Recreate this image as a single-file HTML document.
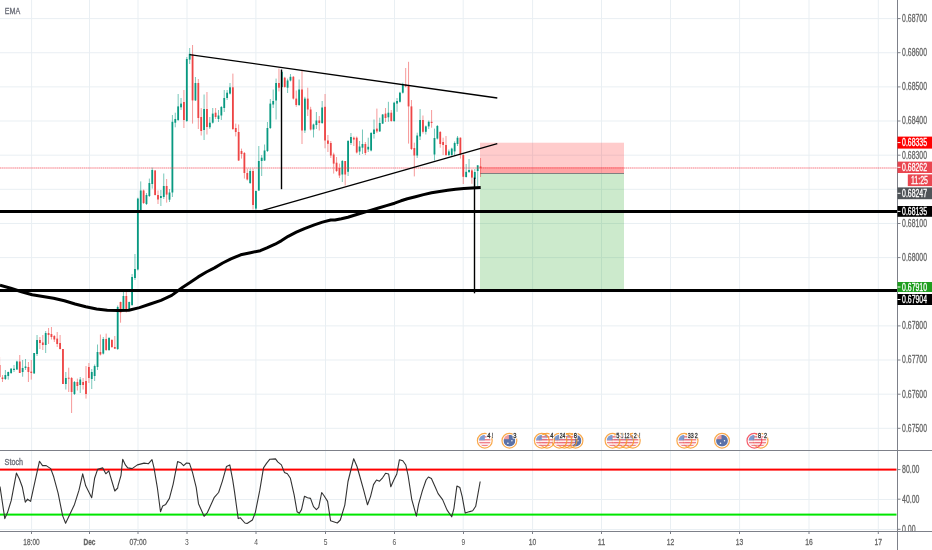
<!DOCTYPE html><html><head><meta charset="utf-8"><style>html,body{margin:0;padding:0;background:#fff;width:932px;height:550px;overflow:hidden;position:relative}</style></head><body><svg width="932" height="550" viewBox="0 0 932 550" style="position:absolute;left:0;top:0;will-change:transform"><line x1="31.6" y1="0" x2="31.6" y2="450" stroke="#e9eff3" stroke-width="1"/><line x1="31.6" y1="451" x2="31.6" y2="531" stroke="#e9eff3" stroke-width="1"/><line x1="89.5" y1="0" x2="89.5" y2="450" stroke="#e9eff3" stroke-width="1"/><line x1="89.5" y1="451" x2="89.5" y2="531" stroke="#e9eff3" stroke-width="1"/><line x1="138" y1="0" x2="138" y2="450" stroke="#e9eff3" stroke-width="1"/><line x1="138" y1="451" x2="138" y2="531" stroke="#e9eff3" stroke-width="1"/><line x1="187" y1="0" x2="187" y2="450" stroke="#e9eff3" stroke-width="1"/><line x1="187" y1="451" x2="187" y2="531" stroke="#e9eff3" stroke-width="1"/><line x1="255.9" y1="0" x2="255.9" y2="450" stroke="#e9eff3" stroke-width="1"/><line x1="255.9" y1="451" x2="255.9" y2="531" stroke="#e9eff3" stroke-width="1"/><line x1="325.5" y1="0" x2="325.5" y2="450" stroke="#e9eff3" stroke-width="1"/><line x1="325.5" y1="451" x2="325.5" y2="531" stroke="#e9eff3" stroke-width="1"/><line x1="394.5" y1="0" x2="394.5" y2="450" stroke="#e9eff3" stroke-width="1"/><line x1="394.5" y1="451" x2="394.5" y2="531" stroke="#e9eff3" stroke-width="1"/><line x1="463.2" y1="0" x2="463.2" y2="450" stroke="#e9eff3" stroke-width="1"/><line x1="463.2" y1="451" x2="463.2" y2="531" stroke="#e9eff3" stroke-width="1"/><line x1="532.6" y1="0" x2="532.6" y2="450" stroke="#e9eff3" stroke-width="1"/><line x1="532.6" y1="451" x2="532.6" y2="531" stroke="#e9eff3" stroke-width="1"/><line x1="601.5" y1="0" x2="601.5" y2="450" stroke="#e9eff3" stroke-width="1"/><line x1="601.5" y1="451" x2="601.5" y2="531" stroke="#e9eff3" stroke-width="1"/><line x1="670.5" y1="0" x2="670.5" y2="450" stroke="#e9eff3" stroke-width="1"/><line x1="670.5" y1="451" x2="670.5" y2="531" stroke="#e9eff3" stroke-width="1"/><line x1="739.6" y1="0" x2="739.6" y2="450" stroke="#e9eff3" stroke-width="1"/><line x1="739.6" y1="451" x2="739.6" y2="531" stroke="#e9eff3" stroke-width="1"/><line x1="809" y1="0" x2="809" y2="450" stroke="#e9eff3" stroke-width="1"/><line x1="809" y1="451" x2="809" y2="531" stroke="#e9eff3" stroke-width="1"/><line x1="878.3" y1="0" x2="878.3" y2="450" stroke="#e9eff3" stroke-width="1"/><line x1="878.3" y1="451" x2="878.3" y2="531" stroke="#e9eff3" stroke-width="1"/><line x1="0" y1="428.32" x2="897.5" y2="428.32" stroke="#e9eff3" stroke-width="1"/><line x1="0" y1="394.17" x2="897.5" y2="394.17" stroke="#e9eff3" stroke-width="1"/><line x1="0" y1="360.03" x2="897.5" y2="360.03" stroke="#e9eff3" stroke-width="1"/><line x1="0" y1="325.89" x2="897.5" y2="325.89" stroke="#e9eff3" stroke-width="1"/><line x1="0" y1="291.74" x2="897.5" y2="291.74" stroke="#e9eff3" stroke-width="1"/><line x1="0" y1="257.6" x2="897.5" y2="257.6" stroke="#e9eff3" stroke-width="1"/><line x1="0" y1="223.46" x2="897.5" y2="223.46" stroke="#e9eff3" stroke-width="1"/><line x1="0" y1="189.32" x2="897.5" y2="189.32" stroke="#e9eff3" stroke-width="1"/><line x1="0" y1="155.17" x2="897.5" y2="155.17" stroke="#e9eff3" stroke-width="1"/><line x1="0" y1="121.03" x2="897.5" y2="121.03" stroke="#e9eff3" stroke-width="1"/><line x1="0" y1="86.89" x2="897.5" y2="86.89" stroke="#e9eff3" stroke-width="1"/><line x1="0" y1="52.74" x2="897.5" y2="52.74" stroke="#e9eff3" stroke-width="1"/><line x1="0" y1="18.6" x2="897.5" y2="18.6" stroke="#e9eff3" stroke-width="1"/><line x1="0" y1="499.5" x2="897.5" y2="499.5" stroke="#e9eff3" stroke-width="1"/><line x1="0" y1="529.5" x2="897.5" y2="529.5" stroke="#e9eff3" stroke-width="1"/><rect x="480" y="142.7" width="144" height="30.5" fill="rgba(255,0,0,0.2)"/><rect x="480" y="167" width="144" height="6.2" fill="rgba(255,0,0,0.2)"/><rect x="480" y="173.2" width="144" height="116.5" fill="rgba(0,150,0,0.2)"/><line x1="480" y1="173.5" x2="624" y2="173.5" stroke="#808080" stroke-width="1"/><line x1="-0.40" y1="357.0" x2="-0.40" y2="378.0" stroke="#ee4545" stroke-opacity="0.55" stroke-width="1"/><rect x="-1.30" y="365.0" width="1.8" height="12.00" fill="#ee4545"/><line x1="2.48" y1="375.0" x2="2.48" y2="382.0" stroke="#ee4545" stroke-opacity="0.55" stroke-width="1"/><rect x="1.58" y="377.5" width="1.8" height="1.50" fill="#ee4545"/><line x1="5.36" y1="370.0" x2="5.36" y2="380.0" stroke="#089981" stroke-opacity="0.55" stroke-width="1"/><rect x="4.46" y="375.0" width="1.8" height="4.00" fill="#089981"/><line x1="8.24" y1="371.6" x2="8.24" y2="379.6" stroke="#089981" stroke-opacity="0.55" stroke-width="1"/><rect x="7.34" y="372.0" width="1.8" height="4.00" fill="#089981"/><line x1="11.12" y1="368.0" x2="11.12" y2="374.0" stroke="#089981" stroke-opacity="0.55" stroke-width="1"/><rect x="10.22" y="368.7" width="1.8" height="4.30" fill="#089981"/><line x1="14.00" y1="365.0" x2="14.00" y2="372.0" stroke="#089981" stroke-opacity="0.55" stroke-width="1"/><rect x="13.10" y="368.7" width="1.8" height="1.30" fill="#089981"/><line x1="16.88" y1="360.7" x2="16.88" y2="370.0" stroke="#089981" stroke-opacity="0.55" stroke-width="1"/><rect x="15.98" y="361.5" width="1.8" height="8.00" fill="#089981"/><line x1="19.76" y1="355.0" x2="19.76" y2="373.0" stroke="#ee4545" stroke-opacity="0.55" stroke-width="1"/><rect x="18.86" y="361.5" width="1.8" height="11.50" fill="#ee4545"/><line x1="22.64" y1="360.0" x2="22.64" y2="376.7" stroke="#089981" stroke-opacity="0.55" stroke-width="1"/><rect x="21.74" y="368.0" width="1.8" height="4.00" fill="#089981"/><line x1="25.52" y1="359.0" x2="25.52" y2="370.0" stroke="#089981" stroke-opacity="0.55" stroke-width="1"/><rect x="24.62" y="366.5" width="1.8" height="1.50" fill="#089981"/><line x1="28.40" y1="362.0" x2="28.40" y2="382.0" stroke="#ee4545" stroke-opacity="0.55" stroke-width="1"/><rect x="27.50" y="367.0" width="1.8" height="5.00" fill="#ee4545"/><line x1="31.28" y1="360.0" x2="31.28" y2="379.6" stroke="#ee4545" stroke-opacity="0.55" stroke-width="1"/><rect x="30.38" y="371.6" width="1.8" height="1.40" fill="#ee4545"/><line x1="34.16" y1="353.0" x2="34.16" y2="373.5" stroke="#089981" stroke-opacity="0.55" stroke-width="1"/><rect x="33.26" y="353.0" width="1.8" height="20.50" fill="#089981"/><line x1="37.04" y1="335.0" x2="37.04" y2="356.0" stroke="#089981" stroke-opacity="0.55" stroke-width="1"/><rect x="36.14" y="340.0" width="1.8" height="14.00" fill="#089981"/><line x1="39.92" y1="337.0" x2="39.92" y2="349.0" stroke="#ee4545" stroke-opacity="0.55" stroke-width="1"/><rect x="39.02" y="340.0" width="1.8" height="3.00" fill="#ee4545"/><line x1="42.80" y1="335.0" x2="42.80" y2="350.0" stroke="#ee4545" stroke-opacity="0.55" stroke-width="1"/><rect x="41.90" y="342.5" width="1.8" height="2.50" fill="#ee4545"/><line x1="45.68" y1="331.0" x2="45.68" y2="353.0" stroke="#089981" stroke-opacity="0.55" stroke-width="1"/><rect x="44.78" y="333.0" width="1.8" height="12.00" fill="#089981"/><line x1="48.56" y1="328.0" x2="48.56" y2="344.0" stroke="#ee4545" stroke-opacity="0.55" stroke-width="1"/><rect x="47.66" y="333.0" width="1.8" height="2.00" fill="#ee4545"/><line x1="51.44" y1="327.0" x2="51.44" y2="339.5" stroke="#ee4545" stroke-opacity="0.55" stroke-width="1"/><rect x="50.54" y="334.0" width="1.8" height="3.00" fill="#ee4545"/><line x1="54.32" y1="335.0" x2="54.32" y2="342.0" stroke="#ee4545" stroke-opacity="0.55" stroke-width="1"/><rect x="53.42" y="336.0" width="1.8" height="3.50" fill="#ee4545"/><line x1="57.20" y1="332.0" x2="57.20" y2="347.0" stroke="#ee4545" stroke-opacity="0.55" stroke-width="1"/><rect x="56.30" y="338.6" width="1.8" height="5.40" fill="#ee4545"/><line x1="60.08" y1="335.0" x2="60.08" y2="349.5" stroke="#ee4545" stroke-opacity="0.55" stroke-width="1"/><rect x="59.18" y="343.0" width="1.8" height="6.00" fill="#ee4545"/><line x1="62.96" y1="349.0" x2="62.96" y2="384.0" stroke="#ee4545" stroke-opacity="0.55" stroke-width="1"/><rect x="62.06" y="349.0" width="1.8" height="35.00" fill="#ee4545"/><line x1="65.84" y1="372.0" x2="65.84" y2="389.5" stroke="#089981" stroke-opacity="0.55" stroke-width="1"/><rect x="64.94" y="378.0" width="1.8" height="6.00" fill="#089981"/><line x1="68.72" y1="367.7" x2="68.72" y2="392.0" stroke="#ee4545" stroke-opacity="0.55" stroke-width="1"/><rect x="67.82" y="377.7" width="1.8" height="1.00" fill="#ee4545"/><line x1="71.60" y1="377.0" x2="71.60" y2="413.0" stroke="#ee4545" stroke-opacity="0.55" stroke-width="1"/><rect x="70.70" y="378.0" width="1.8" height="14.00" fill="#ee4545"/><line x1="74.48" y1="381.0" x2="74.48" y2="395.0" stroke="#089981" stroke-opacity="0.55" stroke-width="1"/><rect x="73.58" y="382.0" width="1.8" height="12.00" fill="#089981"/><line x1="77.36" y1="378.6" x2="77.36" y2="390.5" stroke="#ee4545" stroke-opacity="0.55" stroke-width="1"/><rect x="76.46" y="382.0" width="1.8" height="4.00" fill="#ee4545"/><line x1="80.24" y1="377.0" x2="80.24" y2="393.0" stroke="#089981" stroke-opacity="0.55" stroke-width="1"/><rect x="79.34" y="379.5" width="1.8" height="5.50" fill="#089981"/><line x1="83.12" y1="378.0" x2="83.12" y2="389.5" stroke="#ee4545" stroke-opacity="0.55" stroke-width="1"/><rect x="82.22" y="382.0" width="1.8" height="3.00" fill="#ee4545"/><line x1="86.00" y1="366.0" x2="86.00" y2="398.6" stroke="#ee4545" stroke-opacity="0.55" stroke-width="1"/><rect x="85.10" y="381.0" width="1.8" height="13.00" fill="#ee4545"/><line x1="88.88" y1="363.0" x2="88.88" y2="383.0" stroke="#ee4545" stroke-opacity="0.55" stroke-width="1"/><rect x="87.98" y="367.0" width="1.8" height="11.00" fill="#ee4545"/><line x1="91.76" y1="369.0" x2="91.76" y2="389.0" stroke="#089981" stroke-opacity="0.55" stroke-width="1"/><rect x="90.86" y="372.0" width="1.8" height="7.00" fill="#089981"/><line x1="94.64" y1="364.5" x2="94.64" y2="381.0" stroke="#089981" stroke-opacity="0.55" stroke-width="1"/><rect x="93.74" y="366.0" width="1.8" height="10.00" fill="#089981"/><line x1="97.52" y1="344.5" x2="97.52" y2="370.0" stroke="#089981" stroke-opacity="0.55" stroke-width="1"/><rect x="96.62" y="352.0" width="1.8" height="15.00" fill="#089981"/><line x1="100.40" y1="334.5" x2="100.40" y2="355.5" stroke="#ee4545" stroke-opacity="0.55" stroke-width="1"/><rect x="99.50" y="352.0" width="1.8" height="2.50" fill="#ee4545"/><line x1="103.28" y1="337.0" x2="103.28" y2="354.5" stroke="#089981" stroke-opacity="0.55" stroke-width="1"/><rect x="102.38" y="339.0" width="1.8" height="14.60" fill="#089981"/><line x1="106.16" y1="333.6" x2="106.16" y2="351.0" stroke="#ee4545" stroke-opacity="0.55" stroke-width="1"/><rect x="105.26" y="339.0" width="1.8" height="11.00" fill="#ee4545"/><line x1="109.04" y1="337.0" x2="109.04" y2="351.0" stroke="#089981" stroke-opacity="0.55" stroke-width="1"/><rect x="108.14" y="338.0" width="1.8" height="12.00" fill="#089981"/><line x1="111.92" y1="339.0" x2="111.92" y2="348.0" stroke="#ee4545" stroke-opacity="0.55" stroke-width="1"/><rect x="111.02" y="340.0" width="1.8" height="7.00" fill="#ee4545"/><line x1="114.80" y1="336.0" x2="114.80" y2="349.0" stroke="#ee4545" stroke-opacity="0.55" stroke-width="1"/><rect x="113.90" y="347.0" width="1.8" height="1.70" fill="#ee4545"/><line x1="117.68" y1="305.5" x2="117.68" y2="350.0" stroke="#089981" stroke-opacity="0.55" stroke-width="1"/><rect x="116.78" y="307.0" width="1.8" height="42.00" fill="#089981"/><line x1="120.56" y1="301.6" x2="120.56" y2="322.7" stroke="#ee4545" stroke-opacity="0.55" stroke-width="1"/><rect x="119.66" y="302.0" width="1.8" height="10.50" fill="#ee4545"/><line x1="123.44" y1="292.0" x2="123.44" y2="311.0" stroke="#089981" stroke-opacity="0.55" stroke-width="1"/><rect x="122.54" y="296.0" width="1.8" height="14.00" fill="#089981"/><line x1="126.32" y1="292.0" x2="126.32" y2="312.5" stroke="#ee4545" stroke-opacity="0.55" stroke-width="1"/><rect x="125.42" y="296.0" width="1.8" height="15.00" fill="#ee4545"/><line x1="129.20" y1="301.6" x2="129.20" y2="310.0" stroke="#089981" stroke-opacity="0.55" stroke-width="1"/><rect x="128.30" y="302.0" width="1.8" height="7.60" fill="#089981"/><line x1="132.08" y1="274.0" x2="132.08" y2="306.0" stroke="#089981" stroke-opacity="0.55" stroke-width="1"/><rect x="131.18" y="277.0" width="1.8" height="28.00" fill="#089981"/><line x1="134.96" y1="254.0" x2="134.96" y2="280.0" stroke="#089981" stroke-opacity="0.55" stroke-width="1"/><rect x="134.06" y="269.0" width="1.8" height="9.00" fill="#089981"/><line x1="137.84" y1="197.7" x2="137.84" y2="270.5" stroke="#089981" stroke-opacity="0.55" stroke-width="1"/><rect x="136.94" y="198.6" width="1.8" height="70.90" fill="#089981"/><line x1="140.72" y1="181.4" x2="140.72" y2="213.0" stroke="#089981" stroke-opacity="0.55" stroke-width="1"/><rect x="139.82" y="190.5" width="1.8" height="21.80" fill="#089981"/><line x1="143.60" y1="189.5" x2="143.60" y2="204.0" stroke="#ee4545" stroke-opacity="0.55" stroke-width="1"/><rect x="142.70" y="190.5" width="1.8" height="12.50" fill="#ee4545"/><line x1="146.48" y1="193.0" x2="146.48" y2="205.0" stroke="#089981" stroke-opacity="0.55" stroke-width="1"/><rect x="145.58" y="195.0" width="1.8" height="9.00" fill="#089981"/><line x1="149.36" y1="178.6" x2="149.36" y2="197.0" stroke="#089981" stroke-opacity="0.55" stroke-width="1"/><rect x="148.46" y="183.0" width="1.8" height="13.00" fill="#089981"/><line x1="152.24" y1="167.6" x2="152.24" y2="188.6" stroke="#089981" stroke-opacity="0.55" stroke-width="1"/><rect x="151.34" y="170.0" width="1.8" height="14.00" fill="#089981"/><line x1="155.12" y1="170.0" x2="155.12" y2="195.5" stroke="#ee4545" stroke-opacity="0.55" stroke-width="1"/><rect x="154.22" y="170.5" width="1.8" height="24.50" fill="#ee4545"/><line x1="158.00" y1="190.5" x2="158.00" y2="204.0" stroke="#ee4545" stroke-opacity="0.55" stroke-width="1"/><rect x="157.10" y="195.0" width="1.8" height="4.50" fill="#ee4545"/><line x1="160.88" y1="190.0" x2="160.88" y2="206.0" stroke="#089981" stroke-opacity="0.55" stroke-width="1"/><rect x="159.98" y="196.0" width="1.8" height="2.00" fill="#089981"/><line x1="163.76" y1="173.5" x2="163.76" y2="199.0" stroke="#089981" stroke-opacity="0.55" stroke-width="1"/><rect x="162.86" y="186.0" width="1.8" height="11.00" fill="#089981"/><line x1="166.64" y1="179.0" x2="166.64" y2="202.6" stroke="#ee4545" stroke-opacity="0.55" stroke-width="1"/><rect x="165.74" y="186.0" width="1.8" height="8.60" fill="#ee4545"/><line x1="169.52" y1="189.0" x2="169.52" y2="202.0" stroke="#089981" stroke-opacity="0.55" stroke-width="1"/><rect x="168.62" y="192.5" width="1.8" height="7.20" fill="#089981"/><line x1="172.40" y1="115.0" x2="172.40" y2="197.0" stroke="#089981" stroke-opacity="0.55" stroke-width="1"/><rect x="171.50" y="121.8" width="1.8" height="70.70" fill="#089981"/><line x1="175.28" y1="112.7" x2="175.28" y2="127.3" stroke="#089981" stroke-opacity="0.55" stroke-width="1"/><rect x="174.38" y="119.0" width="1.8" height="3.70" fill="#089981"/><line x1="178.16" y1="94.0" x2="178.16" y2="121.0" stroke="#089981" stroke-opacity="0.55" stroke-width="1"/><rect x="177.26" y="106.4" width="1.8" height="13.60" fill="#089981"/><line x1="181.04" y1="98.0" x2="181.04" y2="110.0" stroke="#089981" stroke-opacity="0.55" stroke-width="1"/><rect x="180.14" y="103.6" width="1.8" height="3.70" fill="#089981"/><line x1="183.92" y1="90.0" x2="183.92" y2="128.0" stroke="#ee4545" stroke-opacity="0.55" stroke-width="1"/><rect x="183.02" y="102.0" width="1.8" height="18.00" fill="#ee4545"/><line x1="186.80" y1="57.0" x2="186.80" y2="122.0" stroke="#089981" stroke-opacity="0.55" stroke-width="1"/><rect x="185.90" y="59.0" width="1.8" height="62.00" fill="#089981"/><line x1="189.68" y1="48.0" x2="189.68" y2="64.0" stroke="#089981" stroke-opacity="0.55" stroke-width="1"/><rect x="188.78" y="53.8" width="1.8" height="5.80" fill="#089981"/><line x1="192.56" y1="45.0" x2="192.56" y2="123.6" stroke="#ee4545" stroke-opacity="0.55" stroke-width="1"/><rect x="191.66" y="54.5" width="1.8" height="45.90" fill="#ee4545"/><line x1="195.44" y1="77.0" x2="195.44" y2="101.0" stroke="#089981" stroke-opacity="0.55" stroke-width="1"/><rect x="194.54" y="83.0" width="1.8" height="17.40" fill="#089981"/><line x1="198.32" y1="79.0" x2="198.32" y2="129.0" stroke="#ee4545" stroke-opacity="0.55" stroke-width="1"/><rect x="197.42" y="83.0" width="1.8" height="35.00" fill="#ee4545"/><line x1="201.20" y1="108.0" x2="201.20" y2="135.5" stroke="#ee4545" stroke-opacity="0.55" stroke-width="1"/><rect x="200.30" y="117.0" width="1.8" height="14.00" fill="#ee4545"/><line x1="204.08" y1="94.5" x2="204.08" y2="140.0" stroke="#089981" stroke-opacity="0.55" stroke-width="1"/><rect x="203.18" y="109.0" width="1.8" height="21.00" fill="#089981"/><line x1="206.96" y1="92.0" x2="206.96" y2="134.5" stroke="#ee4545" stroke-opacity="0.55" stroke-width="1"/><rect x="206.06" y="109.0" width="1.8" height="18.00" fill="#ee4545"/><line x1="209.84" y1="117.0" x2="209.84" y2="129.0" stroke="#089981" stroke-opacity="0.55" stroke-width="1"/><rect x="208.94" y="122.7" width="1.8" height="4.60" fill="#089981"/><line x1="212.72" y1="108.0" x2="212.72" y2="123.6" stroke="#089981" stroke-opacity="0.55" stroke-width="1"/><rect x="211.82" y="113.6" width="1.8" height="9.10" fill="#089981"/><line x1="215.60" y1="108.0" x2="215.60" y2="119.0" stroke="#ee4545" stroke-opacity="0.55" stroke-width="1"/><rect x="214.70" y="112.7" width="1.8" height="4.30" fill="#ee4545"/><line x1="218.48" y1="110.0" x2="218.48" y2="122.0" stroke="#089981" stroke-opacity="0.55" stroke-width="1"/><rect x="217.58" y="115.5" width="1.8" height="3.50" fill="#089981"/><line x1="221.36" y1="106.0" x2="221.36" y2="120.0" stroke="#089981" stroke-opacity="0.55" stroke-width="1"/><rect x="220.46" y="107.0" width="1.8" height="8.50" fill="#089981"/><line x1="224.24" y1="90.0" x2="224.24" y2="112.0" stroke="#089981" stroke-opacity="0.55" stroke-width="1"/><rect x="223.34" y="98.0" width="1.8" height="10.00" fill="#089981"/><line x1="227.12" y1="90.0" x2="227.12" y2="100.0" stroke="#089981" stroke-opacity="0.55" stroke-width="1"/><rect x="226.22" y="92.7" width="1.8" height="5.30" fill="#089981"/><line x1="230.00" y1="83.0" x2="230.00" y2="94.5" stroke="#089981" stroke-opacity="0.55" stroke-width="1"/><rect x="229.10" y="87.3" width="1.8" height="6.30" fill="#089981"/><line x1="232.88" y1="73.6" x2="232.88" y2="130.0" stroke="#ee4545" stroke-opacity="0.55" stroke-width="1"/><rect x="231.98" y="87.3" width="1.8" height="41.70" fill="#ee4545"/><line x1="235.76" y1="123.6" x2="235.76" y2="136.4" stroke="#ee4545" stroke-opacity="0.55" stroke-width="1"/><rect x="234.86" y="128.0" width="1.8" height="4.00" fill="#ee4545"/><line x1="238.64" y1="124.5" x2="238.64" y2="161.0" stroke="#ee4545" stroke-opacity="0.55" stroke-width="1"/><rect x="237.74" y="132.0" width="1.8" height="28.50" fill="#ee4545"/><line x1="241.52" y1="148.6" x2="241.52" y2="158.6" stroke="#ee4545" stroke-opacity="0.55" stroke-width="1"/><rect x="240.62" y="151.0" width="1.8" height="3.00" fill="#ee4545"/><line x1="244.40" y1="152.0" x2="244.40" y2="178.6" stroke="#ee4545" stroke-opacity="0.55" stroke-width="1"/><rect x="243.50" y="153.0" width="1.8" height="20.00" fill="#ee4545"/><line x1="247.28" y1="168.6" x2="247.28" y2="180.5" stroke="#ee4545" stroke-opacity="0.55" stroke-width="1"/><rect x="246.38" y="173.0" width="1.8" height="6.50" fill="#ee4545"/><line x1="250.16" y1="168.6" x2="250.16" y2="184.0" stroke="#089981" stroke-opacity="0.55" stroke-width="1"/><rect x="249.26" y="171.0" width="1.8" height="12.00" fill="#089981"/><line x1="253.04" y1="168.6" x2="253.04" y2="209.5" stroke="#ee4545" stroke-opacity="0.55" stroke-width="1"/><rect x="252.14" y="171.0" width="1.8" height="34.00" fill="#ee4545"/><line x1="255.92" y1="190.5" x2="255.92" y2="213.0" stroke="#089981" stroke-opacity="0.55" stroke-width="1"/><rect x="255.02" y="191.0" width="1.8" height="17.60" fill="#089981"/><line x1="258.80" y1="146.0" x2="258.80" y2="191.0" stroke="#089981" stroke-opacity="0.55" stroke-width="1"/><rect x="257.90" y="161.0" width="1.8" height="29.50" fill="#089981"/><line x1="261.68" y1="155.0" x2="261.68" y2="176.0" stroke="#089981" stroke-opacity="0.55" stroke-width="1"/><rect x="260.78" y="157.7" width="1.8" height="3.30" fill="#089981"/><line x1="264.56" y1="144.5" x2="264.56" y2="161.0" stroke="#089981" stroke-opacity="0.55" stroke-width="1"/><rect x="263.66" y="150.5" width="1.8" height="10.00" fill="#089981"/><line x1="267.44" y1="122.0" x2="267.44" y2="152.0" stroke="#089981" stroke-opacity="0.55" stroke-width="1"/><rect x="266.54" y="128.0" width="1.8" height="23.00" fill="#089981"/><line x1="270.32" y1="99.0" x2="270.32" y2="129.0" stroke="#089981" stroke-opacity="0.55" stroke-width="1"/><rect x="269.42" y="103.6" width="1.8" height="24.40" fill="#089981"/><line x1="273.20" y1="89.5" x2="273.20" y2="108.0" stroke="#089981" stroke-opacity="0.55" stroke-width="1"/><rect x="272.30" y="101.0" width="1.8" height="3.50" fill="#089981"/><line x1="276.08" y1="78.6" x2="276.08" y2="119.5" stroke="#089981" stroke-opacity="0.55" stroke-width="1"/><rect x="275.18" y="83.0" width="1.8" height="17.50" fill="#089981"/><line x1="278.96" y1="68.6" x2="278.96" y2="91.4" stroke="#ee4545" stroke-opacity="0.55" stroke-width="1"/><rect x="278.06" y="83.0" width="1.8" height="4.70" fill="#ee4545"/><line x1="281.84" y1="71.0" x2="281.84" y2="87.7" stroke="#089981" stroke-opacity="0.55" stroke-width="1"/><rect x="280.94" y="72.0" width="1.8" height="15.00" fill="#089981"/><line x1="284.72" y1="76.8" x2="284.72" y2="87.7" stroke="#ee4545" stroke-opacity="0.55" stroke-width="1"/><rect x="283.82" y="77.7" width="1.8" height="9.30" fill="#ee4545"/><line x1="287.60" y1="78.6" x2="287.60" y2="93.0" stroke="#089981" stroke-opacity="0.55" stroke-width="1"/><rect x="286.70" y="80.5" width="1.8" height="7.20" fill="#089981"/><line x1="290.48" y1="74.0" x2="290.48" y2="81.4" stroke="#089981" stroke-opacity="0.55" stroke-width="1"/><rect x="289.58" y="76.8" width="1.8" height="3.70" fill="#089981"/><line x1="293.36" y1="76.0" x2="293.36" y2="99.5" stroke="#ee4545" stroke-opacity="0.55" stroke-width="1"/><rect x="292.46" y="76.8" width="1.8" height="21.80" fill="#ee4545"/><line x1="296.24" y1="90.5" x2="296.24" y2="106.8" stroke="#ee4545" stroke-opacity="0.55" stroke-width="1"/><rect x="295.34" y="98.6" width="1.8" height="6.40" fill="#ee4545"/><line x1="299.12" y1="79.5" x2="299.12" y2="106.0" stroke="#089981" stroke-opacity="0.55" stroke-width="1"/><rect x="298.22" y="89.5" width="1.8" height="15.50" fill="#089981"/><line x1="302.00" y1="70.5" x2="302.00" y2="144.0" stroke="#ee4545" stroke-opacity="0.55" stroke-width="1"/><rect x="301.10" y="89.5" width="1.8" height="41.00" fill="#ee4545"/><line x1="304.88" y1="96.8" x2="304.88" y2="133.0" stroke="#089981" stroke-opacity="0.55" stroke-width="1"/><rect x="303.98" y="98.6" width="1.8" height="31.90" fill="#089981"/><line x1="307.76" y1="87.7" x2="307.76" y2="116.0" stroke="#ee4545" stroke-opacity="0.55" stroke-width="1"/><rect x="306.86" y="98.6" width="1.8" height="10.90" fill="#ee4545"/><line x1="310.64" y1="106.8" x2="310.64" y2="130.5" stroke="#ee4545" stroke-opacity="0.55" stroke-width="1"/><rect x="309.74" y="109.5" width="1.8" height="20.00" fill="#ee4545"/><line x1="313.52" y1="123.6" x2="313.52" y2="137.5" stroke="#089981" stroke-opacity="0.55" stroke-width="1"/><rect x="312.62" y="124.5" width="1.8" height="5.00" fill="#089981"/><line x1="316.40" y1="112.0" x2="316.40" y2="129.0" stroke="#089981" stroke-opacity="0.55" stroke-width="1"/><rect x="315.50" y="120.5" width="1.8" height="4.50" fill="#089981"/><line x1="319.28" y1="116.0" x2="319.28" y2="130.5" stroke="#ee4545" stroke-opacity="0.55" stroke-width="1"/><rect x="318.38" y="120.5" width="1.8" height="2.50" fill="#ee4545"/><line x1="322.16" y1="101.0" x2="322.16" y2="124.0" stroke="#089981" stroke-opacity="0.55" stroke-width="1"/><rect x="321.26" y="107.5" width="1.8" height="15.50" fill="#089981"/><line x1="325.04" y1="94.0" x2="325.04" y2="148.3" stroke="#ee4545" stroke-opacity="0.55" stroke-width="1"/><rect x="324.14" y="106.8" width="1.8" height="33.70" fill="#ee4545"/><line x1="327.92" y1="135.0" x2="327.92" y2="152.0" stroke="#ee4545" stroke-opacity="0.55" stroke-width="1"/><rect x="327.02" y="140.5" width="1.8" height="3.30" fill="#ee4545"/><line x1="330.80" y1="141.0" x2="330.80" y2="158.0" stroke="#ee4545" stroke-opacity="0.55" stroke-width="1"/><rect x="329.90" y="143.0" width="1.8" height="12.50" fill="#ee4545"/><line x1="333.68" y1="152.7" x2="333.68" y2="173.6" stroke="#ee4545" stroke-opacity="0.55" stroke-width="1"/><rect x="332.78" y="154.5" width="1.8" height="9.10" fill="#ee4545"/><line x1="336.56" y1="157.0" x2="336.56" y2="172.0" stroke="#ee4545" stroke-opacity="0.55" stroke-width="1"/><rect x="335.66" y="162.7" width="1.8" height="8.30" fill="#ee4545"/><line x1="339.44" y1="163.6" x2="339.44" y2="178.0" stroke="#ee4545" stroke-opacity="0.55" stroke-width="1"/><rect x="338.54" y="168.0" width="1.8" height="7.50" fill="#ee4545"/><line x1="342.32" y1="160.0" x2="342.32" y2="182.0" stroke="#089981" stroke-opacity="0.55" stroke-width="1"/><rect x="341.42" y="161.0" width="1.8" height="13.50" fill="#089981"/><line x1="345.20" y1="161.0" x2="345.20" y2="185.5" stroke="#ee4545" stroke-opacity="0.55" stroke-width="1"/><rect x="344.30" y="161.0" width="1.8" height="13.50" fill="#ee4545"/><line x1="348.08" y1="140.0" x2="348.08" y2="176.0" stroke="#089981" stroke-opacity="0.55" stroke-width="1"/><rect x="347.18" y="141.0" width="1.8" height="30.80" fill="#089981"/><line x1="350.96" y1="133.0" x2="350.96" y2="145.0" stroke="#089981" stroke-opacity="0.55" stroke-width="1"/><rect x="350.06" y="137.0" width="1.8" height="6.00" fill="#089981"/><line x1="353.84" y1="136.5" x2="353.84" y2="146.0" stroke="#ee4545" stroke-opacity="0.55" stroke-width="1"/><rect x="352.94" y="137.7" width="1.8" height="1.80" fill="#ee4545"/><line x1="356.72" y1="136.5" x2="356.72" y2="153.5" stroke="#ee4545" stroke-opacity="0.55" stroke-width="1"/><rect x="355.82" y="137.7" width="1.8" height="14.80" fill="#ee4545"/><line x1="359.60" y1="141.0" x2="359.60" y2="155.0" stroke="#089981" stroke-opacity="0.55" stroke-width="1"/><rect x="358.70" y="146.5" width="1.8" height="5.00" fill="#089981"/><line x1="362.48" y1="129.5" x2="362.48" y2="154.0" stroke="#089981" stroke-opacity="0.55" stroke-width="1"/><rect x="361.58" y="144.0" width="1.8" height="3.70" fill="#089981"/><line x1="365.36" y1="142.0" x2="365.36" y2="155.0" stroke="#ee4545" stroke-opacity="0.55" stroke-width="1"/><rect x="364.46" y="144.0" width="1.8" height="9.00" fill="#ee4545"/><line x1="368.24" y1="137.7" x2="368.24" y2="152.0" stroke="#089981" stroke-opacity="0.55" stroke-width="1"/><rect x="367.34" y="146.8" width="1.8" height="2.70" fill="#089981"/><line x1="371.12" y1="132.0" x2="371.12" y2="151.4" stroke="#089981" stroke-opacity="0.55" stroke-width="1"/><rect x="370.22" y="133.0" width="1.8" height="17.50" fill="#089981"/><line x1="374.00" y1="119.5" x2="374.00" y2="138.6" stroke="#089981" stroke-opacity="0.55" stroke-width="1"/><rect x="373.10" y="129.5" width="1.8" height="4.50" fill="#089981"/><line x1="376.88" y1="108.6" x2="376.88" y2="133.0" stroke="#ee4545" stroke-opacity="0.55" stroke-width="1"/><rect x="375.98" y="128.6" width="1.8" height="2.80" fill="#ee4545"/><line x1="379.76" y1="117.7" x2="379.76" y2="132.0" stroke="#089981" stroke-opacity="0.55" stroke-width="1"/><rect x="378.86" y="123.0" width="1.8" height="8.40" fill="#089981"/><line x1="382.64" y1="114.0" x2="382.64" y2="124.0" stroke="#089981" stroke-opacity="0.55" stroke-width="1"/><rect x="381.74" y="114.5" width="1.8" height="9.10" fill="#089981"/><line x1="385.52" y1="108.0" x2="385.52" y2="122.0" stroke="#ee4545" stroke-opacity="0.55" stroke-width="1"/><rect x="384.62" y="113.6" width="1.8" height="4.40" fill="#ee4545"/><line x1="388.40" y1="101.8" x2="388.40" y2="121.8" stroke="#089981" stroke-opacity="0.55" stroke-width="1"/><rect x="387.50" y="112.7" width="1.8" height="4.60" fill="#089981"/><line x1="391.28" y1="110.0" x2="391.28" y2="121.8" stroke="#ee4545" stroke-opacity="0.55" stroke-width="1"/><rect x="390.38" y="112.7" width="1.8" height="8.30" fill="#ee4545"/><line x1="394.16" y1="101.8" x2="394.16" y2="122.0" stroke="#089981" stroke-opacity="0.55" stroke-width="1"/><rect x="393.26" y="102.7" width="1.8" height="18.30" fill="#089981"/><line x1="397.04" y1="98.0" x2="397.04" y2="111.8" stroke="#089981" stroke-opacity="0.55" stroke-width="1"/><rect x="396.14" y="101.0" width="1.8" height="2.60" fill="#089981"/><line x1="399.92" y1="91.8" x2="399.92" y2="102.7" stroke="#089981" stroke-opacity="0.55" stroke-width="1"/><rect x="399.02" y="92.7" width="1.8" height="9.10" fill="#089981"/><line x1="402.80" y1="82.7" x2="402.80" y2="93.6" stroke="#089981" stroke-opacity="0.55" stroke-width="1"/><rect x="401.90" y="84.5" width="1.8" height="8.20" fill="#089981"/><line x1="405.68" y1="68.0" x2="405.68" y2="87.3" stroke="#ee4545" stroke-opacity="0.55" stroke-width="1"/><rect x="404.78" y="84.5" width="1.8" height="1.90" fill="#ee4545"/><line x1="408.56" y1="61.8" x2="408.56" y2="143.6" stroke="#ee4545" stroke-opacity="0.55" stroke-width="1"/><rect x="407.66" y="85.5" width="1.8" height="20.90" fill="#ee4545"/><line x1="411.44" y1="100.0" x2="411.44" y2="150.0" stroke="#ee4545" stroke-opacity="0.55" stroke-width="1"/><rect x="410.54" y="106.4" width="1.8" height="42.60" fill="#ee4545"/><line x1="414.32" y1="142.7" x2="414.32" y2="176.4" stroke="#ee4545" stroke-opacity="0.55" stroke-width="1"/><rect x="413.42" y="148.0" width="1.8" height="7.50" fill="#ee4545"/><line x1="417.20" y1="132.7" x2="417.20" y2="158.0" stroke="#089981" stroke-opacity="0.55" stroke-width="1"/><rect x="416.30" y="135.5" width="1.8" height="20.00" fill="#089981"/><line x1="420.08" y1="109.0" x2="420.08" y2="140.0" stroke="#089981" stroke-opacity="0.55" stroke-width="1"/><rect x="419.18" y="120.0" width="1.8" height="16.40" fill="#089981"/><line x1="422.96" y1="115.5" x2="422.96" y2="133.6" stroke="#ee4545" stroke-opacity="0.55" stroke-width="1"/><rect x="422.06" y="120.0" width="1.8" height="11.80" fill="#ee4545"/><line x1="425.84" y1="125.5" x2="425.84" y2="134.5" stroke="#089981" stroke-opacity="0.55" stroke-width="1"/><rect x="424.94" y="126.4" width="1.8" height="5.40" fill="#089981"/><line x1="428.72" y1="120.5" x2="428.72" y2="129.0" stroke="#089981" stroke-opacity="0.55" stroke-width="1"/><rect x="427.82" y="121.8" width="1.8" height="4.60" fill="#089981"/><line x1="431.60" y1="110.0" x2="431.60" y2="127.7" stroke="#ee4545" stroke-opacity="0.55" stroke-width="1"/><rect x="430.70" y="121.8" width="1.8" height="1.20" fill="#ee4545"/><line x1="434.48" y1="128.6" x2="434.48" y2="160.5" stroke="#089981" stroke-opacity="0.55" stroke-width="1"/><rect x="433.58" y="138.0" width="1.8" height="16.50" fill="#089981"/><line x1="437.36" y1="125.0" x2="437.36" y2="139.5" stroke="#089981" stroke-opacity="0.55" stroke-width="1"/><rect x="436.46" y="126.0" width="1.8" height="12.60" fill="#089981"/><line x1="440.24" y1="131.0" x2="440.24" y2="147.7" stroke="#ee4545" stroke-opacity="0.55" stroke-width="1"/><rect x="439.34" y="132.0" width="1.8" height="12.00" fill="#ee4545"/><line x1="443.12" y1="137.7" x2="443.12" y2="155.0" stroke="#ee4545" stroke-opacity="0.55" stroke-width="1"/><rect x="442.22" y="142.0" width="1.8" height="3.00" fill="#ee4545"/><line x1="446.00" y1="136.0" x2="446.00" y2="156.0" stroke="#ee4545" stroke-opacity="0.55" stroke-width="1"/><rect x="445.10" y="145.0" width="1.8" height="10.00" fill="#ee4545"/><line x1="448.88" y1="149.5" x2="448.88" y2="156.0" stroke="#089981" stroke-opacity="0.55" stroke-width="1"/><rect x="447.98" y="151.4" width="1.8" height="3.60" fill="#089981"/><line x1="451.76" y1="147.7" x2="451.76" y2="156.0" stroke="#089981" stroke-opacity="0.55" stroke-width="1"/><rect x="450.86" y="148.6" width="1.8" height="6.40" fill="#089981"/><line x1="454.64" y1="141.4" x2="454.64" y2="156.0" stroke="#089981" stroke-opacity="0.55" stroke-width="1"/><rect x="453.74" y="143.0" width="1.8" height="8.40" fill="#089981"/><line x1="457.52" y1="136.0" x2="457.52" y2="146.0" stroke="#089981" stroke-opacity="0.55" stroke-width="1"/><rect x="456.62" y="137.7" width="1.8" height="6.30" fill="#089981"/><line x1="460.40" y1="137.4" x2="460.40" y2="158.6" stroke="#ee4545" stroke-opacity="0.55" stroke-width="1"/><rect x="459.50" y="137.7" width="1.8" height="16.30" fill="#ee4545"/><line x1="463.28" y1="154.0" x2="463.28" y2="184.0" stroke="#ee4545" stroke-opacity="0.55" stroke-width="1"/><rect x="462.38" y="155.0" width="1.8" height="21.80" fill="#ee4545"/><line x1="466.16" y1="164.0" x2="466.16" y2="177.6" stroke="#089981" stroke-opacity="0.55" stroke-width="1"/><rect x="465.26" y="171.8" width="1.8" height="5.20" fill="#089981"/><line x1="469.04" y1="159.0" x2="469.04" y2="172.5" stroke="#089981" stroke-opacity="0.55" stroke-width="1"/><rect x="468.14" y="170.0" width="1.8" height="2.20" fill="#089981"/><line x1="471.92" y1="169.0" x2="471.92" y2="183.8" stroke="#ee4545" stroke-opacity="0.55" stroke-width="1"/><rect x="471.02" y="170.4" width="1.8" height="7.20" fill="#ee4545"/><line x1="474.80" y1="169.0" x2="474.80" y2="187.8" stroke="#089981" stroke-opacity="0.55" stroke-width="1"/><rect x="473.90" y="172.0" width="1.8" height="7.00" fill="#089981"/><line x1="477.68" y1="165.3" x2="477.68" y2="186.4" stroke="#089981" stroke-opacity="0.55" stroke-width="1"/><rect x="476.78" y="165.3" width="1.8" height="5.70" fill="#089981"/><line x1="480.56" y1="158.0" x2="480.56" y2="177.0" stroke="#ee4545" stroke-opacity="0.55" stroke-width="1"/><rect x="479.66" y="166.4" width="1.8" height="1.80" fill="#ee4545"/><line x1="0" y1="168" x2="897.5" y2="168" stroke="#f23645" stroke-opacity="0.18" stroke-width="1.6"/><line x1="0" y1="168" x2="897.5" y2="168" stroke="#f23645" stroke-opacity="0.3" stroke-width="1.6" stroke-dasharray="1.2 0.9"/><polyline fill="none" stroke="#000" stroke-width="3" stroke-linejoin="round" points="0,285.3 10.7,288.3 21.5,291.8 32.2,294.8 42.9,296.5 53.6,298.2 64.4,300.8 75.1,304 85.8,306.8 96.6,309 107.3,310.2 118,310.6 128.8,310.2 139.5,307.6 150.2,304 161,300.3 171.7,295.4 182.4,287.5 190,282.6 198.2,276.9 206.4,272 214.5,267.9 222.7,263 230.9,258.9 240.7,254.8 250.5,252.7 260.3,250.7 266.9,247.9 275.1,244.2 281.6,240.6 288.2,236.3 296.3,232.2 304.5,228.6 314.3,224.9 322.5,222.1 330.7,220 335,220.0 341.4,218.8 347.9,217.2 354.3,215.2 362.4,212.8 370.4,210.4 378.5,208 386.5,205.6 394.6,203.2 401,200.8 407.4,198.8 415.5,196.7 423.5,194.6 431.6,192.7 439.6,191.4 447.7,190.3 455.7,189.2 463.8,188.4 471.8,187.9 480.7,187.4"/><rect x="0" y="210" width="897.5" height="3" fill="#000"/><rect x="0" y="289" width="897.5" height="3" fill="#000"/><line x1="189.6" y1="54.6" x2="497.3" y2="98" stroke="#000" stroke-width="1.3"/><line x1="258.5" y1="211.6" x2="497.3" y2="143.6" stroke="#000" stroke-width="1.3"/><line x1="281.5" y1="69.5" x2="281.5" y2="189.2" stroke="#000" stroke-width="1.4"/><line x1="474.5" y1="177.6" x2="474.5" y2="293.3" stroke="#000" stroke-width="1.4"/><rect x="0" y="468.6" width="896.5" height="2" fill="#ff0000"/><rect x="0" y="513.6" width="896.5" height="2" fill="#00e600"/><polyline fill="none" stroke="#333" stroke-width="1.1" stroke-linejoin="round" points="0,486.5 4.8,518.6 7.5,512.6 11.2,500.7 16.4,473.1 19.4,479 22.4,487.3 25.3,502.2 27.6,499.2 30.6,501.4 35,481.3 39.5,461.2 42.5,465.6 46.2,465.6 50.7,468.6 53.7,476.8 58.1,493.2 62.6,515.6 65.6,523.3 70,514.1 74.5,504.4 79,490.2 82.7,473.8 85.7,485.8 91.7,497.7 94.6,478.3 97.6,469.4 102.8,467.9 105.8,473.8 108.8,470.9 114.8,491 117.7,488 118,485.8 121,475.3 122.7,459.2 125.4,464.9 127.7,467.9 132.1,468.6 137.4,464.9 144.1,463.1 148.5,463.7 152,459.7 154,467.9 157.5,488.7 160.5,511.8 162.7,505.9 165.7,504.4 169.4,498.4 173.1,484.3 177.6,461.6 180.6,462.7 183.6,465.6 186.5,463 189.5,463.4 192.5,472.4 196.2,487.3 198.5,503.7 204.1,516.3 207.4,512.6 214.1,497.7 218.6,492.5 222.3,481.3 226.5,466.4 229.8,464.9 232.7,479.8 234.5,491.7 238.2,518.6 240.4,517.8 244.9,523 247.1,523.5 252.4,520 255.3,512.6 259.8,490.2 263.5,467.9 266.5,463.4 269.9,459.2 275.5,458.9 277.7,461.9 281.4,464.9 284.4,472.4 287.4,473.8 290.4,478.3 294.1,494.7 297.1,511.8 299.3,513.3 301.5,509.6 304.5,496.2 307.5,497.7 310.5,498.4 313.5,506.6 316.4,509.6 318.7,507.4 321.7,492.5 323.9,495.5 327.6,501.4 330.6,520.8 332.8,521.5 337.3,523 340.3,520 344.8,505.1 348,481.5 351,469.5 353.7,458.7 357,466.5 360,477 363.8,490.6 367.5,504.8 370.5,496.6 373.5,484.6 376.5,480 379.5,481.2 382.6,477.8 385.6,473.3 388.6,474 390.8,486.8 393.8,480 396.8,474 399.4,459.8 402.8,460.8 405.8,465 408.1,475.5 411.8,499.6 416.4,516.1 418.6,504.1 422.4,490.6 426.1,480 428.4,477 431.4,478.5 435.1,486.8 438.1,493.6 442.6,499.6 447.1,510.1 451.7,516.8 453.9,508.6 456.9,486.1 459.9,487.6 462.2,496.6 465.2,513.1 469.7,511.6 472.7,510.8 475.7,506.3 480.2,481.5"/><line x1="0" y1="450.5" x2="932" y2="450.5" stroke="#7d8089" stroke-width="1"/><line x1="0" y1="531.5" x2="932" y2="531.5" stroke="#7d8089" stroke-width="1"/><line x1="897.5" y1="0" x2="897.5" y2="550" stroke="#7d8089" stroke-width="1"/><circle cx="760.6" cy="440.7" r="7.4" fill="none" stroke="#f7931e" stroke-opacity="0.8" stroke-width="1.2"/><clipPath id="fc1"><circle cx="760.6" cy="440.7" r="5.9"/></clipPath><g clip-path="url(#fc1)" opacity="0.85"><rect x="754.6" y="434.7" width="12" height="12" fill="#fff"/><rect x="754.6" y="436.09999999999997" width="12" height="1.5" fill="#ec5560" fill-opacity="0.85"/><rect x="754.6" y="438.99999999999994" width="12" height="1.5" fill="#ec5560" fill-opacity="0.85"/><rect x="754.6" y="441.9" width="12" height="1.5" fill="#ec5560" fill-opacity="0.85"/><rect x="754.6" y="444.79999999999995" width="12" height="1.5" fill="#ec5560" fill-opacity="0.85"/><rect x="754.6" y="434.7" width="6" height="5.6" fill="#6a8bcc"/></g><circle cx="754.4" cy="440.7" r="7.4" fill="none" stroke="#f23645" stroke-opacity="0.8" stroke-width="1.2"/><clipPath id="fc2"><circle cx="754.4" cy="440.7" r="5.9"/></clipPath><g clip-path="url(#fc2)" opacity="0.85"><rect x="748.4" y="434.7" width="12" height="12" fill="#fff"/><rect x="748.4" y="436.09999999999997" width="12" height="1.5" fill="#ec5560" fill-opacity="0.85"/><rect x="748.4" y="438.99999999999994" width="12" height="1.5" fill="#ec5560" fill-opacity="0.85"/><rect x="748.4" y="441.9" width="12" height="1.5" fill="#ec5560" fill-opacity="0.85"/><rect x="748.4" y="444.79999999999995" width="12" height="1.5" fill="#ec5560" fill-opacity="0.85"/><rect x="748.4" y="434.7" width="6" height="5.6" fill="#6a8bcc"/></g><circle cx="722" cy="440.7" r="7.4" fill="none" stroke="#f7931e" stroke-opacity="0.8" stroke-width="1.2"/><clipPath id="fc3"><circle cx="722" cy="440.7" r="5.9"/></clipPath><g clip-path="url(#fc3)" opacity="0.85"><rect x="716" y="434.7" width="12" height="12" fill="#3f5a99"/><rect x="716" y="434.7" width="5.5" height="4.5" fill="#e98a8f"/><circle cx="720.5" cy="443.2" r="0.8" fill="#fff"/><circle cx="724.5" cy="440.7" r="0.7" fill="#fff"/></g><circle cx="690.6" cy="440.7" r="7.4" fill="none" stroke="#f7931e" stroke-opacity="0.8" stroke-width="1.2"/><clipPath id="fc4"><circle cx="690.6" cy="440.7" r="5.9"/></clipPath><g clip-path="url(#fc4)" opacity="0.85"><rect x="684.6" y="434.7" width="12" height="12" fill="#fff"/><rect x="684.6" y="436.09999999999997" width="12" height="1.5" fill="#ec5560" fill-opacity="0.85"/><rect x="684.6" y="438.99999999999994" width="12" height="1.5" fill="#ec5560" fill-opacity="0.85"/><rect x="684.6" y="441.9" width="12" height="1.5" fill="#ec5560" fill-opacity="0.85"/><rect x="684.6" y="444.79999999999995" width="12" height="1.5" fill="#ec5560" fill-opacity="0.85"/><rect x="684.6" y="434.7" width="6" height="5.6" fill="#6a8bcc"/></g><circle cx="684.3" cy="440.7" r="7.4" fill="none" stroke="#f7931e" stroke-opacity="0.8" stroke-width="1.2"/><clipPath id="fc5"><circle cx="684.3" cy="440.7" r="5.9"/></clipPath><g clip-path="url(#fc5)" opacity="0.85"><rect x="678.3" y="434.7" width="12" height="12" fill="#fff"/><rect x="678.3" y="436.09999999999997" width="12" height="1.5" fill="#ec5560" fill-opacity="0.85"/><rect x="678.3" y="438.99999999999994" width="12" height="1.5" fill="#ec5560" fill-opacity="0.85"/><rect x="678.3" y="441.9" width="12" height="1.5" fill="#ec5560" fill-opacity="0.85"/><rect x="678.3" y="444.79999999999995" width="12" height="1.5" fill="#ec5560" fill-opacity="0.85"/><rect x="678.3" y="434.7" width="6" height="5.6" fill="#6a8bcc"/></g><circle cx="632.8" cy="440.7" r="7.4" fill="none" stroke="#f7931e" stroke-opacity="0.8" stroke-width="1.2"/><clipPath id="fc6"><circle cx="632.8" cy="440.7" r="5.9"/></clipPath><g clip-path="url(#fc6)" opacity="0.85"><rect x="626.8" y="434.7" width="12" height="12" fill="#fff"/><rect x="626.8" y="436.09999999999997" width="12" height="1.5" fill="#ec5560" fill-opacity="0.85"/><rect x="626.8" y="438.99999999999994" width="12" height="1.5" fill="#ec5560" fill-opacity="0.85"/><rect x="626.8" y="441.9" width="12" height="1.5" fill="#ec5560" fill-opacity="0.85"/><rect x="626.8" y="444.79999999999995" width="12" height="1.5" fill="#ec5560" fill-opacity="0.85"/><rect x="626.8" y="434.7" width="6" height="5.6" fill="#6a8bcc"/></g><circle cx="626.3" cy="440.7" r="7.4" fill="none" stroke="#f7931e" stroke-opacity="0.8" stroke-width="1.2"/><clipPath id="fc7"><circle cx="626.3" cy="440.7" r="5.9"/></clipPath><g clip-path="url(#fc7)" opacity="0.85"><rect x="620.3" y="434.7" width="12" height="12" fill="#fff"/><rect x="620.3" y="436.09999999999997" width="12" height="1.5" fill="#ec5560" fill-opacity="0.85"/><rect x="620.3" y="438.99999999999994" width="12" height="1.5" fill="#ec5560" fill-opacity="0.85"/><rect x="620.3" y="441.9" width="12" height="1.5" fill="#ec5560" fill-opacity="0.85"/><rect x="620.3" y="444.79999999999995" width="12" height="1.5" fill="#ec5560" fill-opacity="0.85"/><rect x="620.3" y="434.7" width="6" height="5.6" fill="#6a8bcc"/></g><circle cx="619.5" cy="440.7" r="7.4" fill="none" stroke="#f7931e" stroke-opacity="0.8" stroke-width="1.2"/><clipPath id="fc8"><circle cx="619.5" cy="440.7" r="5.9"/></clipPath><g clip-path="url(#fc8)" opacity="0.85"><rect x="613.5" y="434.7" width="12" height="12" fill="#fff"/><rect x="613.5" y="436.09999999999997" width="12" height="1.5" fill="#ec5560" fill-opacity="0.85"/><rect x="613.5" y="438.99999999999994" width="12" height="1.5" fill="#ec5560" fill-opacity="0.85"/><rect x="613.5" y="441.9" width="12" height="1.5" fill="#ec5560" fill-opacity="0.85"/><rect x="613.5" y="444.79999999999995" width="12" height="1.5" fill="#ec5560" fill-opacity="0.85"/><rect x="613.5" y="434.7" width="6" height="5.6" fill="#6a8bcc"/></g><circle cx="612.5" cy="440.7" r="7.4" fill="none" stroke="#f7931e" stroke-opacity="0.8" stroke-width="1.2"/><clipPath id="fc9"><circle cx="612.5" cy="440.7" r="5.9"/></clipPath><g clip-path="url(#fc9)" opacity="0.85"><rect x="606.5" y="434.7" width="12" height="12" fill="#fff"/><rect x="606.5" y="436.09999999999997" width="12" height="1.5" fill="#ec5560" fill-opacity="0.85"/><rect x="606.5" y="438.99999999999994" width="12" height="1.5" fill="#ec5560" fill-opacity="0.85"/><rect x="606.5" y="441.9" width="12" height="1.5" fill="#ec5560" fill-opacity="0.85"/><rect x="606.5" y="444.79999999999995" width="12" height="1.5" fill="#ec5560" fill-opacity="0.85"/><rect x="606.5" y="434.7" width="6" height="5.6" fill="#6a8bcc"/></g><circle cx="575.5" cy="440.7" r="7.4" fill="none" stroke="#f7931e" stroke-opacity="0.8" stroke-width="1.2"/><clipPath id="fc10"><circle cx="575.5" cy="440.7" r="5.9"/></clipPath><g clip-path="url(#fc10)" opacity="0.85"><rect x="569.5" y="434.7" width="12" height="12" fill="#3f5a99"/><rect x="569.5" y="434.7" width="5.5" height="4.5" fill="#e98a8f"/><circle cx="574.0" cy="443.2" r="0.8" fill="#fff"/><circle cx="578.0" cy="440.7" r="0.7" fill="#fff"/></g><circle cx="569.5" cy="440.7" r="7.4" fill="none" stroke="#f7931e" stroke-opacity="0.8" stroke-width="1.2"/><clipPath id="fc11"><circle cx="569.5" cy="440.7" r="5.9"/></clipPath><g clip-path="url(#fc11)" opacity="0.85"><rect x="563.5" y="434.7" width="12" height="12" fill="#fff"/><rect x="563.5" y="436.09999999999997" width="12" height="1.5" fill="#ec5560" fill-opacity="0.85"/><rect x="563.5" y="438.99999999999994" width="12" height="1.5" fill="#ec5560" fill-opacity="0.85"/><rect x="563.5" y="441.9" width="12" height="1.5" fill="#ec5560" fill-opacity="0.85"/><rect x="563.5" y="444.79999999999995" width="12" height="1.5" fill="#ec5560" fill-opacity="0.85"/><rect x="563.5" y="434.7" width="6" height="5.6" fill="#6a8bcc"/></g><circle cx="564.5" cy="440.7" r="7.4" fill="none" stroke="#f7931e" stroke-opacity="0.8" stroke-width="1.2"/><clipPath id="fc12"><circle cx="564.5" cy="440.7" r="5.9"/></clipPath><g clip-path="url(#fc12)" opacity="0.85"><rect x="558.5" y="434.7" width="12" height="12" fill="#fff"/><rect x="558.5" y="436.09999999999997" width="12" height="1.5" fill="#ec5560" fill-opacity="0.85"/><rect x="558.5" y="438.99999999999994" width="12" height="1.5" fill="#ec5560" fill-opacity="0.85"/><rect x="558.5" y="441.9" width="12" height="1.5" fill="#ec5560" fill-opacity="0.85"/><rect x="558.5" y="444.79999999999995" width="12" height="1.5" fill="#ec5560" fill-opacity="0.85"/><rect x="558.5" y="434.7" width="6" height="5.6" fill="#6a8bcc"/></g><circle cx="559.5" cy="440.7" r="7.4" fill="none" stroke="#f7931e" stroke-opacity="0.8" stroke-width="1.2"/><clipPath id="fc13"><circle cx="559.5" cy="440.7" r="5.9"/></clipPath><g clip-path="url(#fc13)" opacity="0.85"><rect x="553.5" y="434.7" width="12" height="12" fill="#fff"/><rect x="553.5" y="436.09999999999997" width="12" height="1.5" fill="#ec5560" fill-opacity="0.85"/><rect x="553.5" y="438.99999999999994" width="12" height="1.5" fill="#ec5560" fill-opacity="0.85"/><rect x="553.5" y="441.9" width="12" height="1.5" fill="#ec5560" fill-opacity="0.85"/><rect x="553.5" y="444.79999999999995" width="12" height="1.5" fill="#ec5560" fill-opacity="0.85"/><rect x="553.5" y="434.7" width="6" height="5.6" fill="#6a8bcc"/></g><circle cx="547" cy="440.7" r="7.4" fill="none" stroke="#f7931e" stroke-opacity="0.8" stroke-width="1.2"/><clipPath id="fc14"><circle cx="547" cy="440.7" r="5.9"/></clipPath><g clip-path="url(#fc14)" opacity="0.85"><rect x="541" y="434.7" width="12" height="12" fill="#fff"/><rect x="541" y="436.09999999999997" width="12" height="1.5" fill="#ec5560" fill-opacity="0.85"/><rect x="541" y="438.99999999999994" width="12" height="1.5" fill="#ec5560" fill-opacity="0.85"/><rect x="541" y="441.9" width="12" height="1.5" fill="#ec5560" fill-opacity="0.85"/><rect x="541" y="444.79999999999995" width="12" height="1.5" fill="#ec5560" fill-opacity="0.85"/><rect x="541" y="434.7" width="6" height="5.6" fill="#6a8bcc"/></g><circle cx="541.8" cy="440.7" r="7.4" fill="none" stroke="#f7931e" stroke-opacity="0.8" stroke-width="1.2"/><clipPath id="fc15"><circle cx="541.8" cy="440.7" r="5.9"/></clipPath><g clip-path="url(#fc15)" opacity="0.85"><rect x="535.8" y="434.7" width="12" height="12" fill="#fff"/><rect x="535.8" y="436.09999999999997" width="12" height="1.5" fill="#ec5560" fill-opacity="0.85"/><rect x="535.8" y="438.99999999999994" width="12" height="1.5" fill="#ec5560" fill-opacity="0.85"/><rect x="535.8" y="441.9" width="12" height="1.5" fill="#ec5560" fill-opacity="0.85"/><rect x="535.8" y="444.79999999999995" width="12" height="1.5" fill="#ec5560" fill-opacity="0.85"/><rect x="535.8" y="434.7" width="6" height="5.6" fill="#6a8bcc"/></g><circle cx="509.4" cy="440.7" r="7.4" fill="none" stroke="#f7931e" stroke-opacity="0.8" stroke-width="1.2"/><clipPath id="fc16"><circle cx="509.4" cy="440.7" r="5.9"/></clipPath><g clip-path="url(#fc16)" opacity="0.85"><rect x="503.4" y="434.7" width="12" height="12" fill="#3f5a99"/><rect x="503.4" y="434.7" width="5.5" height="4.5" fill="#e98a8f"/><circle cx="507.9" cy="443.2" r="0.8" fill="#fff"/><circle cx="511.9" cy="440.7" r="0.7" fill="#fff"/></g><circle cx="484.8" cy="440.7" r="7.4" fill="none" stroke="#f7931e" stroke-opacity="0.8" stroke-width="1.2"/><clipPath id="fc17"><circle cx="484.8" cy="440.7" r="5.9"/></clipPath><g clip-path="url(#fc17)" opacity="0.85"><rect x="478.8" y="434.7" width="12" height="12" fill="#fff"/><rect x="478.8" y="436.09999999999997" width="12" height="1.5" fill="#ec5560" fill-opacity="0.85"/><rect x="478.8" y="438.99999999999994" width="12" height="1.5" fill="#ec5560" fill-opacity="0.85"/><rect x="478.8" y="441.9" width="12" height="1.5" fill="#ec5560" fill-opacity="0.85"/><rect x="478.8" y="444.79999999999995" width="12" height="1.5" fill="#ec5560" fill-opacity="0.85"/><rect x="478.8" y="434.7" width="6" height="5.6" fill="#6a8bcc"/></g><rect x="486.59999999999997" y="432" width="4.4" height="6.6" fill="#fff"/><rect x="491.4" y="432" width="2.4" height="6.6" fill="#fff"/><rect x="512.6999999999999" y="432" width="4.4" height="6.6" fill="#fff"/><rect x="549.6" y="432" width="4.4" height="6.6" fill="#fff"/><rect x="559.1999999999999" y="432" width="6.7" height="6.6" fill="#fff"/><rect x="573.1999999999999" y="432" width="4.4" height="6.6" fill="#fff"/><rect x="615.6999999999999" y="432" width="4.4" height="6.6" fill="#fff"/><rect x="620.6999999999999" y="432" width="2.8" height="6.6" fill="#fff"/><rect x="623.9" y="432" width="6.0" height="6.6" fill="#fff"/><rect x="633.1999999999999" y="432" width="4.2" height="6.6" fill="#fff"/><rect x="638.6999999999999" y="432" width="2.3" height="6.6" fill="#fff"/><rect x="687.1" y="432" width="7.1000000000000005" height="6.6" fill="#fff"/><rect x="694.1999999999999" y="432" width="4.2" height="6.6" fill="#fff"/><rect x="757.3" y="432" width="4.3" height="6.6" fill="#fff"/><rect x="763.3" y="432" width="4.2" height="6.6" fill="#fff"/><text x="487.2" y="437.9" font-family="Liberation Sans, sans-serif" font-size="6.6" fill="#333" text-anchor="start" font-weight="normal" stroke="#333" stroke-width="0.3" textLength="3.2" lengthAdjust="spacingAndGlyphs">4</text><text x="492" y="437.9" font-family="Liberation Sans, sans-serif" font-size="6.6" fill="#333" text-anchor="start" font-weight="normal" stroke="#333" stroke-width="0.3" textLength="1.2" lengthAdjust="spacingAndGlyphs">!</text><text x="513.3" y="437.9" font-family="Liberation Sans, sans-serif" font-size="6.6" fill="#333" text-anchor="start" font-weight="normal" stroke="#333" stroke-width="0.3" textLength="3.2" lengthAdjust="spacingAndGlyphs">3</text><text x="550.2" y="437.9" font-family="Liberation Sans, sans-serif" font-size="6.6" fill="#333" text-anchor="start" font-weight="normal" stroke="#333" stroke-width="0.3" textLength="3.2" lengthAdjust="spacingAndGlyphs">4</text><text x="559.8" y="437.9" font-family="Liberation Sans, sans-serif" font-size="6.6" fill="#333" text-anchor="start" font-weight="normal" stroke="#333" stroke-width="0.3" textLength="5.5" lengthAdjust="spacingAndGlyphs">24</text><text x="573.8" y="437.9" font-family="Liberation Sans, sans-serif" font-size="6.6" fill="#333" text-anchor="start" font-weight="normal" stroke="#333" stroke-width="0.3" textLength="3.2" lengthAdjust="spacingAndGlyphs">8</text><text x="616.3" y="437.9" font-family="Liberation Sans, sans-serif" font-size="6.6" fill="#333" text-anchor="start" font-weight="normal" stroke="#333" stroke-width="0.3" textLength="3.2" lengthAdjust="spacingAndGlyphs">5</text><text x="621.3" y="437.9" font-family="Liberation Sans, sans-serif" font-size="6.6" fill="#333" text-anchor="start" font-weight="normal" stroke="#333" stroke-width="0.3" textLength="1.6" lengthAdjust="spacingAndGlyphs">1</text><text x="624.5" y="437.9" font-family="Liberation Sans, sans-serif" font-size="6.6" fill="#333" text-anchor="start" font-weight="normal" stroke="#333" stroke-width="0.3" textLength="4.8" lengthAdjust="spacingAndGlyphs">12</text><text x="633.8" y="437.9" font-family="Liberation Sans, sans-serif" font-size="6.6" fill="#333" text-anchor="start" font-weight="normal" stroke="#333" stroke-width="0.3" textLength="3.0" lengthAdjust="spacingAndGlyphs">2</text><text x="639.3" y="437.9" font-family="Liberation Sans, sans-serif" font-size="6.6" fill="#333" text-anchor="start" font-weight="normal" stroke="#333" stroke-width="0.3" textLength="1.1" lengthAdjust="spacingAndGlyphs">!</text><text x="687.7" y="437.9" font-family="Liberation Sans, sans-serif" font-size="6.6" fill="#333" text-anchor="start" font-weight="normal" stroke="#333" stroke-width="0.3" textLength="5.9" lengthAdjust="spacingAndGlyphs">33</text><text x="694.8" y="437.9" font-family="Liberation Sans, sans-serif" font-size="6.6" fill="#333" text-anchor="start" font-weight="normal" stroke="#333" stroke-width="0.3" textLength="3.0" lengthAdjust="spacingAndGlyphs">2</text><text x="757.9" y="437.9" font-family="Liberation Sans, sans-serif" font-size="6.6" fill="#333" text-anchor="start" font-weight="normal" stroke="#333" stroke-width="0.3" textLength="3.1" lengthAdjust="spacingAndGlyphs">8</text><text x="763.9" y="437.9" font-family="Liberation Sans, sans-serif" font-size="6.6" fill="#333" text-anchor="start" font-weight="normal" stroke="#333" stroke-width="0.3" textLength="3.0" lengthAdjust="spacingAndGlyphs">2</text><line x1="897.5" y1="428.3" x2="900.5" y2="428.3" stroke="#7d8089" stroke-width="1"/><text x="902.1" y="431.71600000000035" font-family="Liberation Sans, sans-serif" font-size="10.2" fill="#666" text-anchor="start" font-weight="normal" stroke="#666" stroke-width="0.3" textLength="24.9" lengthAdjust="spacingAndGlyphs">0.67500</text><line x1="897.5" y1="394.2" x2="900.5" y2="394.2" stroke="#7d8089" stroke-width="1"/><text x="902.1" y="397.5730000000003" font-family="Liberation Sans, sans-serif" font-size="10.2" fill="#666" text-anchor="start" font-weight="normal" stroke="#666" stroke-width="0.3" textLength="24.9" lengthAdjust="spacingAndGlyphs">0.67600</text><line x1="897.5" y1="360.0" x2="900.5" y2="360.0" stroke="#7d8089" stroke-width="1"/><text x="902.1" y="363.4300000000003" font-family="Liberation Sans, sans-serif" font-size="10.2" fill="#666" text-anchor="start" font-weight="normal" stroke="#666" stroke-width="0.3" textLength="24.9" lengthAdjust="spacingAndGlyphs">0.67700</text><line x1="897.5" y1="325.9" x2="900.5" y2="325.9" stroke="#7d8089" stroke-width="1"/><text x="902.1" y="329.28700000000026" font-family="Liberation Sans, sans-serif" font-size="10.2" fill="#666" text-anchor="start" font-weight="normal" stroke="#666" stroke-width="0.3" textLength="24.9" lengthAdjust="spacingAndGlyphs">0.67800</text><line x1="897.5" y1="257.6" x2="900.5" y2="257.6" stroke="#7d8089" stroke-width="1"/><text x="902.1" y="261.0010000000002" font-family="Liberation Sans, sans-serif" font-size="10.2" fill="#666" text-anchor="start" font-weight="normal" stroke="#666" stroke-width="0.3" textLength="24.9" lengthAdjust="spacingAndGlyphs">0.68000</text><line x1="897.5" y1="223.5" x2="900.5" y2="223.5" stroke="#7d8089" stroke-width="1"/><text x="902.1" y="226.85800000000017" font-family="Liberation Sans, sans-serif" font-size="10.2" fill="#666" text-anchor="start" font-weight="normal" stroke="#666" stroke-width="0.3" textLength="24.9" lengthAdjust="spacingAndGlyphs">0.68100</text><line x1="897.5" y1="155.2" x2="900.5" y2="155.2" stroke="#7d8089" stroke-width="1"/><text x="902.1" y="158.57200000000012" font-family="Liberation Sans, sans-serif" font-size="10.2" fill="#666" text-anchor="start" font-weight="normal" stroke="#666" stroke-width="0.3" textLength="24.9" lengthAdjust="spacingAndGlyphs">0.68300</text><line x1="897.5" y1="121.0" x2="900.5" y2="121.0" stroke="#7d8089" stroke-width="1"/><text x="902.1" y="124.42900000000009" font-family="Liberation Sans, sans-serif" font-size="10.2" fill="#666" text-anchor="start" font-weight="normal" stroke="#666" stroke-width="0.3" textLength="24.9" lengthAdjust="spacingAndGlyphs">0.68400</text><line x1="897.5" y1="86.9" x2="900.5" y2="86.9" stroke="#7d8089" stroke-width="1"/><text x="902.1" y="90.28600000000006" font-family="Liberation Sans, sans-serif" font-size="10.2" fill="#666" text-anchor="start" font-weight="normal" stroke="#666" stroke-width="0.3" textLength="24.9" lengthAdjust="spacingAndGlyphs">0.68500</text><line x1="897.5" y1="52.7" x2="900.5" y2="52.7" stroke="#7d8089" stroke-width="1"/><text x="902.1" y="56.14300000000003" font-family="Liberation Sans, sans-serif" font-size="10.2" fill="#666" text-anchor="start" font-weight="normal" stroke="#666" stroke-width="0.3" textLength="24.9" lengthAdjust="spacingAndGlyphs">0.68600</text><line x1="897.5" y1="18.6" x2="900.5" y2="18.6" stroke="#7d8089" stroke-width="1"/><text x="902.1" y="22.0" font-family="Liberation Sans, sans-serif" font-size="10.2" fill="#666" text-anchor="start" font-weight="normal" stroke="#666" stroke-width="0.3" textLength="24.9" lengthAdjust="spacingAndGlyphs">0.68700</text><rect x="897.5" y="136.6" width="34.5" height="12.0" fill="#ff0000"/><line x1="897.5" y1="142.6" x2="900.5" y2="142.6" stroke="#fff" stroke-width="1"/><text x="902.1" y="146.1" font-family="Liberation Sans, sans-serif" font-size="10.2" fill="#fff" text-anchor="start" font-weight="normal" stroke="#fff" stroke-width="0.3" textLength="24.9" lengthAdjust="spacingAndGlyphs">0.68335</text><rect x="897.5" y="161.6" width="34.5" height="11.5" fill="#ea4650"/><line x1="897.5" y1="167.3" x2="900.5" y2="167.3" stroke="#fff" stroke-width="1"/><text x="902.1" y="170.85" font-family="Liberation Sans, sans-serif" font-size="10.2" fill="#fff" text-anchor="start" font-weight="normal" stroke="#fff" stroke-width="0.3" textLength="24.9" lengthAdjust="spacingAndGlyphs">0.68262</text><rect x="898" y="173.1" width="34" height="1.3" fill="#fff"/><rect x="907.8" y="174.4" width="24.2" height="11.7" fill="#ea4650"/><text x="911" y="183.8" font-family="Liberation Sans, sans-serif" font-size="10.2" fill="#fff" text-anchor="start" font-weight="normal" stroke="#fff" stroke-width="0.3" textLength="17" lengthAdjust="spacingAndGlyphs">11:25</text><rect x="897.5" y="187.4" width="34.5" height="11.799999999999983" fill="#4f5458"/><line x1="897.5" y1="193.3" x2="900.5" y2="193.3" stroke="#fff" stroke-width="1"/><text x="902.1" y="196.8" font-family="Liberation Sans, sans-serif" font-size="10.2" fill="#fff" text-anchor="start" font-weight="normal" stroke="#fff" stroke-width="0.3" textLength="24.9" lengthAdjust="spacingAndGlyphs">0.68247</text><rect x="897.5" y="206" width="34.5" height="10.800000000000011" fill="#000"/><line x1="897.5" y1="211.4" x2="900.5" y2="211.4" stroke="#fff" stroke-width="1"/><text x="902.1" y="214.9" font-family="Liberation Sans, sans-serif" font-size="10.2" fill="#fff" text-anchor="start" font-weight="normal" stroke="#fff" stroke-width="0.3" textLength="24.9" lengthAdjust="spacingAndGlyphs">0.68135</text><rect x="897.5" y="282" width="34.5" height="10" fill="#1f9e1f"/><line x1="897.5" y1="287.0" x2="900.5" y2="287.0" stroke="#fff" stroke-width="1"/><text x="902.1" y="290.5" font-family="Liberation Sans, sans-serif" font-size="10.2" fill="#fff" text-anchor="start" font-weight="normal" stroke="#fff" stroke-width="0.3" textLength="24.9" lengthAdjust="spacingAndGlyphs">0.67910</text><rect x="897.5" y="294" width="34.5" height="11" fill="#000"/><line x1="897.5" y1="299.5" x2="900.5" y2="299.5" stroke="#fff" stroke-width="1"/><text x="902.1" y="303.0" font-family="Liberation Sans, sans-serif" font-size="10.2" fill="#fff" text-anchor="start" font-weight="normal" stroke="#fff" stroke-width="0.3" textLength="24.9" lengthAdjust="spacingAndGlyphs">0.67904</text><clipPath id="stclip"><rect x="897" y="451" width="40" height="80"/></clipPath><g clip-path="url(#stclip)"><line x1="897.5" y1="469.6" x2="900.5" y2="469.6" stroke="#7d8089" stroke-width="1"/><text x="902" y="473.0" font-family="Liberation Sans, sans-serif" font-size="10.2" fill="#666" text-anchor="start" font-weight="normal" stroke="#666" stroke-width="0.3" textLength="17.5" lengthAdjust="spacingAndGlyphs">80.00</text><line x1="897.5" y1="499.2" x2="900.5" y2="499.2" stroke="#7d8089" stroke-width="1"/><text x="902" y="502.59999999999997" font-family="Liberation Sans, sans-serif" font-size="10.2" fill="#666" text-anchor="start" font-weight="normal" stroke="#666" stroke-width="0.3" textLength="17.5" lengthAdjust="spacingAndGlyphs">40.00</text><line x1="897.5" y1="529.3" x2="900.5" y2="529.3" stroke="#7d8089" stroke-width="1"/><text x="902" y="532.6999999999999" font-family="Liberation Sans, sans-serif" font-size="10.2" fill="#666" text-anchor="start" font-weight="normal" stroke="#666" stroke-width="0.3" textLength="13.5" lengthAdjust="spacingAndGlyphs">0.00</text></g><line x1="31.5" y1="531" x2="31.5" y2="534" stroke="#7d8089" stroke-width="1"/><text x="23.3" y="545" font-family="Liberation Sans, sans-serif" font-size="9.6" fill="#666" text-anchor="start" font-weight="normal" stroke="#666" stroke-width="0.3" textLength="16.4" lengthAdjust="spacingAndGlyphs">18:00</text><line x1="89.5" y1="531" x2="89.5" y2="534" stroke="#7d8089" stroke-width="1"/><text x="83.5" y="545" font-family="Liberation Sans, sans-serif" font-size="9.6" fill="#666" text-anchor="start" font-weight="bold" stroke="#666" stroke-width="0.3" textLength="12" lengthAdjust="spacingAndGlyphs">Dec</text><line x1="138" y1="531" x2="138" y2="534" stroke="#7d8089" stroke-width="1"/><text x="129.4" y="545" font-family="Liberation Sans, sans-serif" font-size="9.6" fill="#666" text-anchor="start" font-weight="normal" stroke="#666" stroke-width="0.3" textLength="17.2" lengthAdjust="spacingAndGlyphs">07:00</text><line x1="187" y1="531" x2="187" y2="534" stroke="#7d8089" stroke-width="1"/><text x="187" y="545" font-family="Liberation Sans, sans-serif" font-size="9.6" fill="#555" text-anchor="middle" transform="translate(187,0) scale(0.7,1) translate(-187,0)">3</text><line x1="256" y1="531" x2="256" y2="534" stroke="#7d8089" stroke-width="1"/><text x="256" y="545" font-family="Liberation Sans, sans-serif" font-size="9.6" fill="#555" text-anchor="middle" transform="translate(256,0) scale(0.7,1) translate(-256,0)">4</text><line x1="325.5" y1="531" x2="325.5" y2="534" stroke="#7d8089" stroke-width="1"/><text x="325.5" y="545" font-family="Liberation Sans, sans-serif" font-size="9.6" fill="#555" text-anchor="middle" transform="translate(325.5,0) scale(0.7,1) translate(-325.5,0)">5</text><line x1="394.5" y1="531" x2="394.5" y2="534" stroke="#7d8089" stroke-width="1"/><text x="394.5" y="545" font-family="Liberation Sans, sans-serif" font-size="9.6" fill="#555" text-anchor="middle" transform="translate(394.5,0) scale(0.7,1) translate(-394.5,0)">6</text><line x1="463.5" y1="531" x2="463.5" y2="534" stroke="#7d8089" stroke-width="1"/><text x="463.5" y="545" font-family="Liberation Sans, sans-serif" font-size="9.6" fill="#555" text-anchor="middle" transform="translate(463.5,0) scale(0.7,1) translate(-463.5,0)">9</text><line x1="532.5" y1="531" x2="532.5" y2="534" stroke="#7d8089" stroke-width="1"/><text x="528.75" y="545" font-family="Liberation Sans, sans-serif" font-size="9.6" fill="#666" text-anchor="start" font-weight="normal" stroke="#666" stroke-width="0.3" textLength="7.5" lengthAdjust="spacingAndGlyphs">10</text><line x1="601.5" y1="531" x2="601.5" y2="534" stroke="#7d8089" stroke-width="1"/><text x="597.75" y="545" font-family="Liberation Sans, sans-serif" font-size="9.6" fill="#666" text-anchor="start" font-weight="normal" stroke="#666" stroke-width="0.3" textLength="7.5" lengthAdjust="spacingAndGlyphs">11</text><line x1="670.5" y1="531" x2="670.5" y2="534" stroke="#7d8089" stroke-width="1"/><text x="666.75" y="545" font-family="Liberation Sans, sans-serif" font-size="9.6" fill="#666" text-anchor="start" font-weight="normal" stroke="#666" stroke-width="0.3" textLength="7.5" lengthAdjust="spacingAndGlyphs">12</text><line x1="739.5" y1="531" x2="739.5" y2="534" stroke="#7d8089" stroke-width="1"/><text x="735.75" y="545" font-family="Liberation Sans, sans-serif" font-size="9.6" fill="#666" text-anchor="start" font-weight="normal" stroke="#666" stroke-width="0.3" textLength="7.5" lengthAdjust="spacingAndGlyphs">13</text><line x1="809" y1="531" x2="809" y2="534" stroke="#7d8089" stroke-width="1"/><text x="805.25" y="545" font-family="Liberation Sans, sans-serif" font-size="9.6" fill="#666" text-anchor="start" font-weight="normal" stroke="#666" stroke-width="0.3" textLength="7.5" lengthAdjust="spacingAndGlyphs">16</text><line x1="878.3" y1="531" x2="878.3" y2="534" stroke="#7d8089" stroke-width="1"/><text x="874.55" y="545" font-family="Liberation Sans, sans-serif" font-size="9.6" fill="#666" text-anchor="start" font-weight="normal" stroke="#666" stroke-width="0.3" textLength="7.5" lengthAdjust="spacingAndGlyphs">17</text><text x="4.8" y="13.9" font-family="Liberation Sans, sans-serif" font-size="8.3" fill="#6a6d78" text-anchor="start" font-weight="normal" stroke="#6a6d78" stroke-width="0.3" textLength="15.4" lengthAdjust="spacingAndGlyphs">EMA</text><text x="4.6" y="465.3" font-family="Liberation Sans, sans-serif" font-size="8.3" fill="#6a6d78" text-anchor="start" font-weight="normal" stroke="#6a6d78" stroke-width="0.3" textLength="18.4" lengthAdjust="spacingAndGlyphs">Stoch</text></svg></body></html>
